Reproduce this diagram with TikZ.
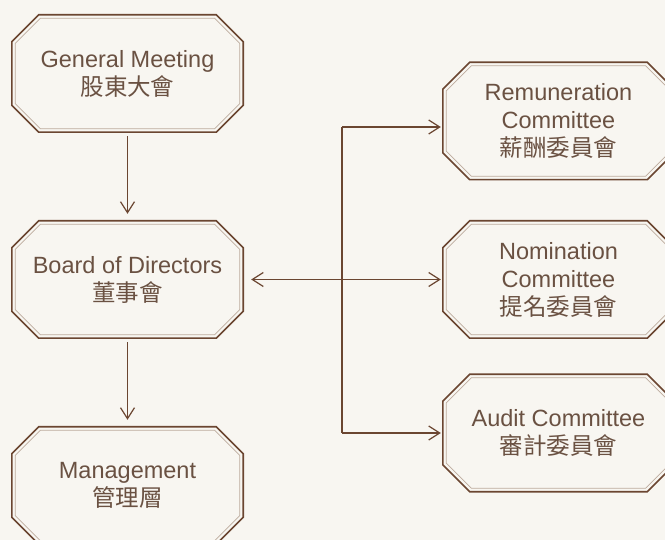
\documentclass[tikz,border=0pt]{standalone}
\usepackage{fontspec}
\setmainfont{Liberation Sans}
\newfontfamily\cjk{Noto Sans CJK TC}
\usetikzlibrary{arrows.meta,calc}

\definecolor{bgpaper}{HTML}{F8F6F1}
\definecolor{linebrown}{HTML}{6B4631}
\definecolor{textbrown}{HTML}{6A5142}
\definecolor{innerbrown}{HTML}{BDAC9E}

\tikzset{
	orgbox/.style={rectangle, minimum width=231pt, minimum height=117pt, inner sep=0pt,
		align=center, text=textbrown, font=\fontsize{23.5}{28}\selectfont},
	conn/.style={draw=linebrown, line width=1.2pt},
	arr/.style={conn, -{Straight Barb[length=11pt,width=14pt]}},
	arrs/.style={conn, {Straight Barb[length=11pt,width=14pt]}-{Straight Barb[length=11pt,width=14pt]}},
}

\begin{document}
\begin{tikzpicture}[x=1pt,y=-1pt]
	\def \c {27}    % chamfer of the boxes
	\def \d {3.5}   % inset of the light inner outline
	\def \e {28.5}  % chamfer of the inner outline
	
	\path[use as bounding box, fill=bgpaper] (0,0) rectangle (665,540);
	\clip (0,0) rectangle (665,540);
	
	\node(gm)[orgbox] at (127.5,73.5) {General Meeting\\{\cjk 股東大會}};
	\node(bod)[orgbox] at (127.5,279.5) {Board of Directors\\{\cjk 董事會}};
	\node(mgt)[orgbox] at (127.5,485.5) {Management\\{\cjk 管理層}};
	\node(rem)[orgbox] at (558.5,121) {Remuneration\\Committee\\{\cjk 薪酬委員會}};
	\node(nom)[orgbox] at (558.5,279.5) {Nomination\\Committee\\{\cjk 提名委員會}};
	\node(aud)[orgbox] at (558.5,433) {Audit Committee\\{\cjk 審計委員會}};
	
	\foreach \s in {gm,bod,mgt,rem,nom,aud}
	{
		\draw[draw=linebrown, line width=1.6pt] ($(\s.north west)+(\c,0)$) -- ($(\s.north east)+(-\c,0)$)
		-- ($(\s.north east)+(0,\c)$) -- ($(\s.south east)+(0,-\c)$) -- ($(\s.south east)+(-\c,0)$)
		-- ($(\s.south west)+(\c,0)$) -- ($(\s.south west)+(0,-\c)$) -- ($(\s.north west)+(0,\c)$) -- cycle;
		\draw[draw=innerbrown, line width=0.8pt] ($(\s.north west)+(\e,\d)$) -- ($(\s.north east)+(-\e,\d)$)
		-- ($(\s.north east)+(-\d,\e)$) -- ($(\s.south east)+(-\d,-\e)$) -- ($(\s.south east)+(-\e,-\d)$)
		-- ($(\s.south west)+(\e,-\d)$) -- ($(\s.south west)+(\d,-\e)$) -- ($(\s.north west)+(\d,\e)$) -- cycle;
	}
	
	\draw[arr, shorten <=4pt, shorten >=7pt] (gm) -- (bod);
	\draw[arr, shorten <=4pt, shorten >=7pt] (bod) -- (mgt);
	\draw[arrs, shorten <=8pt, shorten >=2pt] (bod) -- (nom);
	
	\coordinate (bustop) at (342,127);
	\coordinate (busbot) at (342,433);
	\draw[conn] (bustop) -- (busbot);
	\draw[arr, shorten >=2pt] (bustop) -- (bustop -| rem.west);
	\draw[arr, shorten >=2pt] (busbot) -- (busbot -| aud.west);
\end{tikzpicture}
\end{document}
